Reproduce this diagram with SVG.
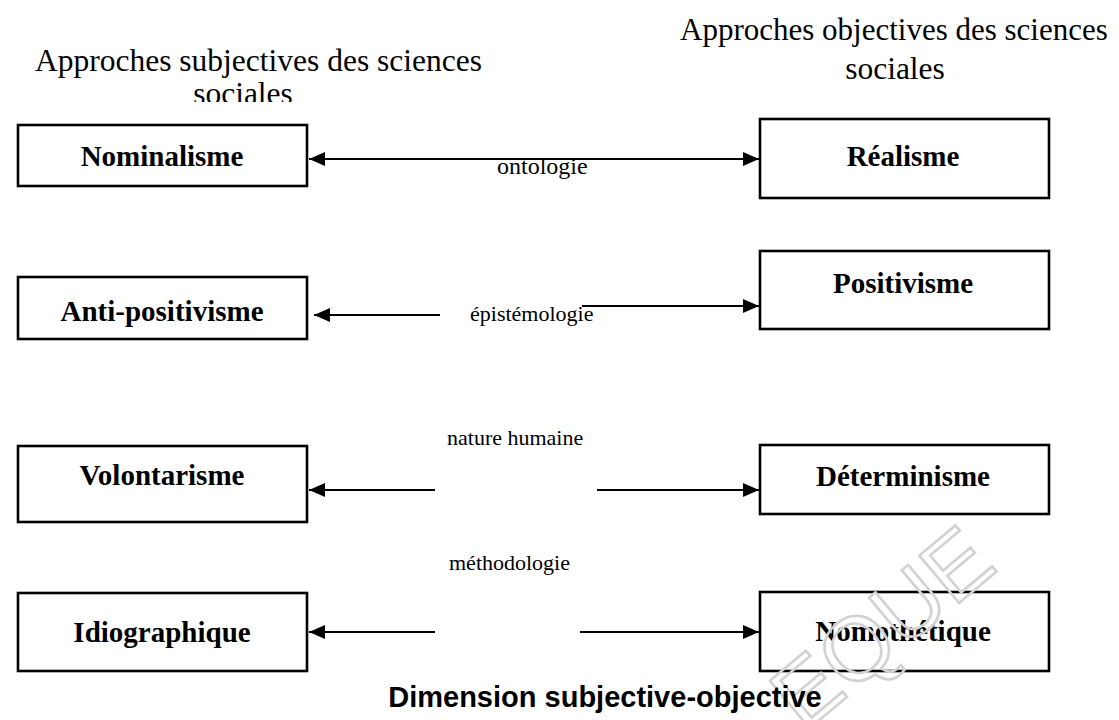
<svg xmlns="http://www.w3.org/2000/svg" width="1119" height="720" viewBox="0 0 1119 720">
  <defs>
    <style>
      .title { font-family: "Liberation Serif", "Times New Roman", serif; font-size: 31.5px; fill: #000; }
      .box rect { fill: #fff; stroke: #000; stroke-width: 2.6; }
      .box text { font-family: "Liberation Serif", "Times New Roman", serif; font-size: 29px; font-weight: bold; fill: #000; text-anchor: middle; }
      .lbl { font-family: "Liberation Serif", "Times New Roman", serif; font-size: 22px; fill: #000; }
      .wire { stroke: #000; stroke-width: 1.8; fill: none; }
      .caption { font-family: "Liberation Sans", Arial, sans-serif; font-size: 29px; font-weight: bold; fill: #000; text-anchor: middle; }
      .wm { font-family: "Liberation Sans", Arial, sans-serif; font-size: 90px; fill: none; stroke: #d2d2d2; stroke-width: 2.6; }
    </style>
    <marker id="head" viewBox="0 0 16 14" refX="16" refY="7" markerWidth="16" markerHeight="14" markerUnits="userSpaceOnUse" orient="auto-start-reverse">
      <path d="M0,0 L16,7 L0,14 Z" fill="#000"/>
    </marker>
    <clipPath id="titleClip">
      <rect x="0" y="0" width="560" height="102"/>
    </clipPath>
  </defs>

  <rect width="1119" height="720" fill="#fff"/>

  <!-- column headings -->
  <g id="heading-left" clip-path="url(#titleClip)">
    <text class="title" x="35" y="71">Approches subjectives des sciences</text>
    <text class="title" x="243" y="104" text-anchor="middle">sociales</text>
  </g>
  <g id="heading-right">
    <text class="title" x="680" y="40" style="font-size:31px">Approches objectives des sciences</text>
    <text class="title" x="895" y="79" text-anchor="middle">sociales</text>
  </g>

  <!-- subjective column -->
  <g id="nominalisme" class="box">
    <rect x="18" y="125" width="289" height="61"/>
    <text x="162" y="166">Nominalisme</text>
  </g>
  <g id="anti-positivisme" class="box">
    <rect x="18" y="277" width="289" height="62"/>
    <text x="162" y="321">Anti-positivisme</text>
  </g>
  <g id="volontarisme" class="box">
    <rect x="18" y="446" width="289" height="76"/>
    <text x="162" y="485">Volontarisme</text>
  </g>
  <g id="idiographique" class="box">
    <rect x="18" y="593" width="289" height="78"/>
    <text x="162" y="642">Idiographique</text>
  </g>

  <!-- objective column -->
  <g id="realisme" class="box">
    <rect x="760" y="119" width="289" height="79"/>
    <text x="903" y="166">Réalisme</text>
  </g>
  <g id="positivisme" class="box">
    <rect x="760" y="251" width="289" height="78"/>
    <text x="903" y="293">Positivisme</text>
  </g>
  <g id="determinisme" class="box">
    <rect x="760" y="445" width="289" height="69"/>
    <text x="903" y="486">Déterminisme</text>
  </g>
  <g id="nomothetique" class="box">
    <rect x="760" y="592" width="289" height="79"/>
    <text x="903" y="641">Nomothétique</text>
  </g>

  <!-- faint stamp lying over the lower right corner -->
  <text class="wm" transform="translate(804,733) rotate(-40)">EQUE</text>

  <!-- connectors between opposite positions -->
  <g id="connectors">
    <line class="wire" x1="309" y1="159" x2="759" y2="159" marker-start="url(#head)" marker-end="url(#head)"/>
    <text class="lbl" x="497" y="174" style="font-size:24px">ontologie</text>

    <line class="wire" x1="440" y1="315" x2="314" y2="315" marker-end="url(#head)"/>
    <line class="wire" x1="582" y1="306" x2="759" y2="306" marker-end="url(#head)"/>
    <text class="lbl" x="470" y="321">épistémologie</text>

    <line class="wire" x1="435" y1="490" x2="309" y2="490" marker-end="url(#head)"/>
    <line class="wire" x1="597" y1="490" x2="759" y2="490" marker-end="url(#head)"/>
    <text class="lbl" x="447" y="445">nature humaine</text>

    <line class="wire" x1="435" y1="632" x2="309" y2="632" marker-end="url(#head)"/>
    <line class="wire" x1="580" y1="632" x2="759" y2="632" marker-end="url(#head)"/>
    <text class="lbl" x="449" y="570">méthodologie</text>
  </g>

  <text class="caption" x="605" y="707">Dimension subjective-objective</text>
</svg>
